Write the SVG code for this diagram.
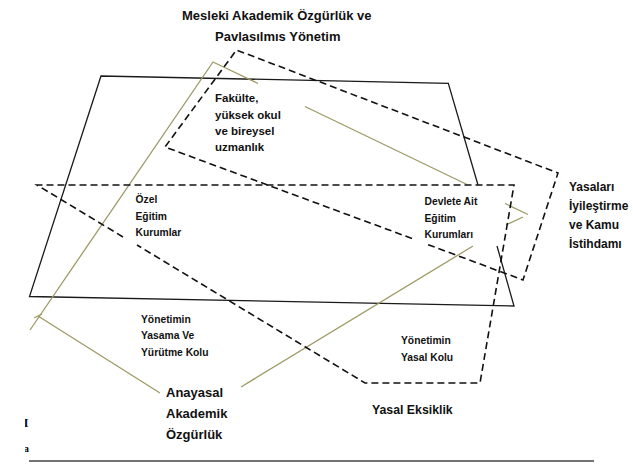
<svg xmlns="http://www.w3.org/2000/svg" width="633" height="466" viewBox="0 0 633 466">
<style>
  .solid{fill:none;stroke:#1a1a1a;stroke-width:1.3;stroke-linejoin:miter}
  .dash{fill:none;stroke:#111;stroke-width:1.6;stroke-dasharray:7 4}
  .olive{fill:none;stroke:#9e9a66;stroke-width:1.3}
  text{font-family:"Liberation Sans",Arial,sans-serif;font-weight:bold;fill:#111}
  .big{font-size:13px}
  .mid{font-size:11.5px}
  .sm{font-size:10.3px}
  .frag{font-family:"Liberation Serif","Times New Roman",serif;font-weight:bold}
</style>
<defs>
  <clipPath id="fragclip"><rect x="25" y="405" width="6" height="55"/></clipPath>
</defs>
<rect width="633" height="466" fill="#fff"/>
<g id="connectors">
  <!-- solid quadrilateral -->
  <path class="solid" d="M478,185 L448.3,83.3 L101,76 L29.5,296.5 L514,306 L497,246"/>
  <!-- olive quadrilateral -->
  <path class="olive" d="M30,330 L213,62 L258,83.5 M305,106.5 L467,184.5 M505,203.5 L528,214.5 M523,217 L506,225 M473,246 L241,387 M160,393 L38,316"/>
  <path class="olive" d="M34,318 L42,314" stroke-width="1"/>
  <!-- dashed rotated box (Fakülte) -->
  <path class="dash" d="M412,238.5 L165,147 L236.5,50 L558,173 L523,280 L425,243.5"/>
  <!-- large dashed pentagon -->
  <path class="dash" d="M123,237 L37,185 L514,185 L480,383 L365,383 L137,245"/>
</g>
<g id="title">
  <text class="big" x="182" y="20">Mesleki Akademik Özgürlük ve</text>
  <text class="big" x="215" y="41">Pavlasılmıs Yönetim</text>
</g>
<g id="fakulte">
  <text class="mid" x="215" y="102">Fakülte,</text>
  <text class="mid" x="215" y="118.5">yüksek okul</text>
  <text class="mid" x="215" y="135">ve bireysel</text>
  <text class="mid" x="215" y="151">uzmanlık</text>
</g>
<g id="ozel">
  <text class="sm" x="135.5" y="203">Özel</text>
  <text class="sm" x="135.5" y="219.5">Eğitim</text>
  <text class="sm" x="135.5" y="236">Kurumlar</text>
</g>
<g id="devlete">
  <text class="sm" x="424.5" y="205" font-size="10.5">Devlete Ait</text>
  <text class="sm" x="424.5" y="221.7" font-size="10.5">Eğitim</text>
  <text class="sm" x="424.5" y="238.3" font-size="10.5">Kurumları</text>
</g>
<g id="yasalari">
  <text x="569" y="191" font-size="12">Yasaları</text>
  <text x="569" y="210" font-size="12">İyileştirme</text>
  <text x="569" y="229.3" font-size="12">ve Kamu</text>
  <text x="569" y="247.7" font-size="12">İstihdamı</text>
</g>
<g id="yasama">
  <text class="sm" x="141" y="322.7">Yönetimin</text>
  <text class="sm" x="141" y="339.3">Yasama Ve</text>
  <text class="sm" x="141" y="356">Yürütme Kolu</text>
</g>
<g id="yasal-kolu">
  <text class="sm" x="401" y="344.3">Yönetimin</text>
  <text class="sm" x="401" y="360.7">Yasal Kolu</text>
</g>
<g id="anayasal">
  <text x="166" y="397.3" font-size="13">Anayasal</text>
  <text x="166" y="418.3" font-size="13">Akademik</text>
  <text x="166" y="438.5" font-size="13">Özgürlük</text>
</g>
<g id="yasal-eksiklik">
  <text x="372" y="414.3" font-size="12.3">Yasal Eksiklik</text>
</g>
<g id="fragments" clip-path="url(#fragclip)">
  <text class="frag" x="23.5" y="427" font-size="13">I</text>
  <text class="frag" x="23.5" y="452" font-size="11">a</text>
</g>
<line x1="29" y1="461" x2="594" y2="461" stroke="#444" stroke-width="1.5"/>
</svg>
